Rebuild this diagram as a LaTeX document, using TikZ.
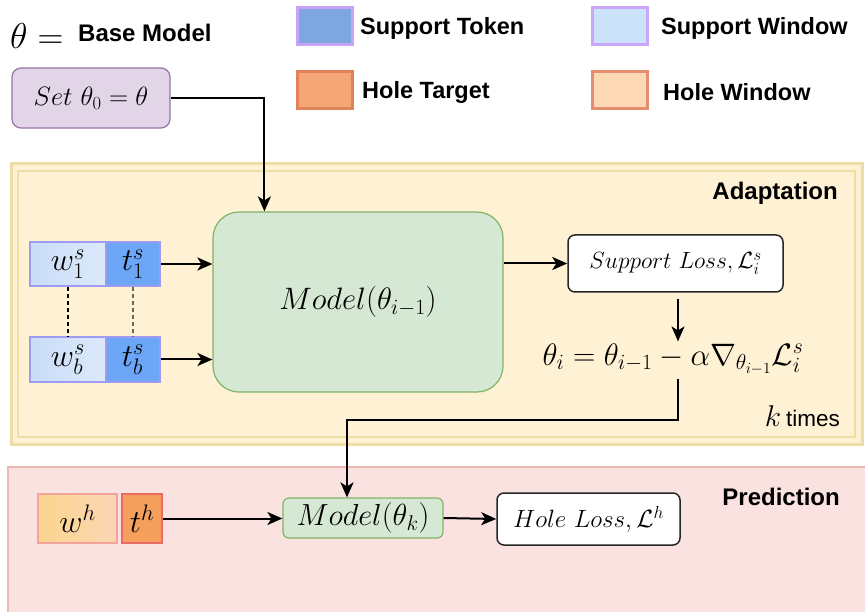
\RequirePackage{fix-cm}
\documentclass[tikz,border=0pt]{standalone}
\usepackage{fontspec}
\newfontfamily\labfont{Liberation Sans}
\usetikzlibrary{arrows.meta,calc}

\definecolor{setfill}{HTML}{E1D5E7}
\definecolor{setdraw}{HTML}{9673A6}
\definecolor{adfill}{HTML}{FFF2D4}
\definecolor{addraw}{HTML}{EEDDA6}
\definecolor{prfill}{HTML}{FAE2E0}
\definecolor{prdraw}{HTML}{EDB8B3}
\definecolor{gfill}{HTML}{D5E8D4}
\definecolor{gdraw}{HTML}{82B366}
\definecolor{stokfill}{HTML}{7EA6E0}
\definecolor{stokdraw}{HTML}{C6A4F6}
\definecolor{swinfill}{HTML}{CCE2FB}
\definecolor{swindraw}{HTML}{C9A6F8}
\definecolor{htarfill}{HTML}{F4A677}
\definecolor{htardraw}{HTML}{E0825A}
\definecolor{hwinfill}{HTML}{FCD9B4}
\definecolor{hwindraw}{HTML}{E58E6F}
\definecolor{wsleft}{HTML}{C9DDF8}
\definecolor{wsright}{HTML}{DCE9FA}
\definecolor{wsdraw}{HTML}{9E9CF2}
\definecolor{tsfill}{HTML}{6BA6F7}
\definecolor{whleft}{HTML}{FDD58E}
\definecolor{whright}{HTML}{F9D6B4}
\definecolor{whdraw}{HTML}{F4A29C}
\definecolor{thfill}{HTML}{F49F5C}
\definecolor{thdraw}{HTML}{EA6B66}

\tikzset{
  arr/.style={line width=2pt,-{Stealth[length=15pt,width=13pt,inset=4pt]}},
  legendbox/.style={rectangle,line width=3pt,minimum width=55pt,minimum height=37pt,inner sep=0pt},
  legendtext/.style={anchor=west,inner sep=0pt,font=\labfont\bfseries\fontsize{23.5}{26}\selectfont},
  paneltitle/.style={anchor=east,inner sep=0pt,font=\labfont\bfseries\fontsize{24}{26}\selectfont},
  greenbox/.style={rectangle,draw=gdraw,fill=gfill,line width=1.2pt,inner sep=0pt},
  lossbox/.style={rectangle,draw=black!85,fill=white,line width=1.5pt,rounded corners=7pt,inner sep=0pt},
  wsbox/.style={rectangle,draw=wsdraw,line width=2pt,left color=wsleft,right color=wsright,inner sep=0pt,minimum width=76pt,minimum height=44pt,font=\fontsize{32}{34}\selectfont},
  tsbox/.style={rectangle,draw=wsdraw,fill=tsfill,line width=2pt,inner sep=0pt,minimum width=54pt,minimum height=44pt,font=\fontsize{32}{34}\selectfont},
}

\begin{document}
\begin{tikzpicture}[x=1pt,y=-1pt]
\useasboundingbox (0,0) rectangle (865,612);

% header: base model and initial parameters
\node[anchor=west,inner sep=0pt,font=\fontsize{36}{38}\selectfont] (thetaeq) at (10,36) {$\theta =$};
\node[anchor=west,inner sep=0pt,font=\labfont\bfseries\fontsize{24}{26}\selectfont] (basemodel) at (78,33) {Base Model};
\node[rectangle,draw=setdraw,fill=setfill,line width=1.2pt,rounded corners=9pt,minimum width=158pt,minimum height=60pt,inner sep=0pt,font=\fontsize{26.5}{28}\selectfont] (setbox) at (91,98) {$Set\ \theta_0 = \theta$};

% legend
\node[legendbox,draw=stokdraw,fill=stokfill] (lgst) at (324.5,26.5) {};
\node[legendtext] (lgsttext) at (360,28) {Support Token};
\node[legendbox,draw=htardraw,fill=htarfill] (lght) at (324.5,90) {};
\node[legendtext] (lghttext) at (362,92) {Hole Target};
\node[legendbox,draw=swindraw,fill=swinfill] (lgsw) at (620,26.5) {};
\node[legendtext] (lgswtext) at (661,28) {Support Window};
\node[legendbox,draw=hwindraw,fill=hwinfill] (lghw) at (620,90) {};
\node[legendtext] (lghwtext) at (663,92) {Hole Window};

% adaptation panel
\draw[fill=adfill,draw=addraw,line width=3pt] (11,164) rectangle (862,444);
\draw[draw=addraw,line width=1.5pt] (18,171) rectangle (855,437);
\node[paneltitle] (adtitle) at (838,193) {Adaptation};

% prediction panel
\draw[fill=prfill,draw=prdraw,line width=2pt] (8,467) rectangle (880,630);
\node[paneltitle] (prtitle) at (840,497) {Prediction};

% inner loop
\node[greenbox,rounded corners=26pt,minimum width=290pt,minimum height=180pt,font=\fontsize{31}{33}\selectfont] (model1) at (358,302) {$Model(\theta_{i-1})$};

\node[wsbox] (w1) at (68,264) {$w^s_1$};
\node[tsbox] (t1) at (133,264) {$t^s_1$};
\node[wsbox] (wb) at (68,359.5) {$w^s_b$};
\node[tsbox] (tb) at (133,359.5) {$t^s_b$};

\draw[line width=1.4pt,dash pattern=on 4pt off 3pt] (w1.south) -- (wb.north);
\draw[line width=1.4pt,dash pattern=on 4pt off 3pt,black!60] (t1.south) -- (tb.north);

\node[lossbox,minimum width=215pt,minimum height=57pt,font=\fontsize{23.5}{26}\selectfont] (sl) at (675.5,263.5) {$Support\ Loss, \mathcal{L}^s_i$};

\node[inner sep=0pt,font=\fontsize{31}{33}\selectfont] (update) at (673,359) {$\theta_i = \theta_{i-1} - \alpha\nabla_{\theta_{i-1}}\mathcal{L}^s_i$};

\node[anchor=east,inner sep=0pt] (ktimes) at (840,416) {\fontsize{30}{32}\selectfont$k$\,{\labfont\fontsize{22.5}{24}\selectfont times}};

% prediction row
\node[rectangle,draw=whdraw,left color=whleft,right color=whright,line width=1.5pt,minimum width=79pt,minimum height=49pt,inner sep=0pt,font=\fontsize{32}{34}\selectfont] (wh) at (77.5,518.5) {$w^h$};
\node[rectangle,draw=thdraw,fill=thfill,line width=1.5pt,minimum width=40pt,minimum height=49pt,inner sep=0pt,font=\fontsize{32}{34}\selectfont] (th) at (142,518.5) {$t^h$};

\node[greenbox,rounded corners=6pt,minimum width=160pt,minimum height=40pt,font=\fontsize{30.5}{32}\selectfont] (model2) at (363,518) {$Model(\theta_k)$};
\node[lossbox,minimum width=183pt,minimum height=52pt,font=\fontsize{25}{27}\selectfont] (hl) at (588.5,519) {$Hole\ Loss, \mathcal{L}^h$};

% connectors
\draw[arr] (setbox.east) -| ([xshift=52pt]model1.north west);
\draw[arr] (t1.east) -- (t1.east -| model1.west);
\draw[arr] (tb.east) -- (tb.east -| model1.west);
\draw[arr] (sl.west -| model1.east) -- (sl.west);
\coordinate (turn) at (678,420);
\draw[arr,shorten <=6pt,shorten >=2pt] (turn |- sl.south) -- (turn |- update.north);
\draw[arr,shorten <=4pt] (turn |- update.south) -- (turn) -| ([xshift=-16pt]model2.north);
\draw[arr] (th.east) -- (th.east -| model2.west);
\draw[arr] (model2.east) -- (hl.west);
\end{tikzpicture}
\end{document}
